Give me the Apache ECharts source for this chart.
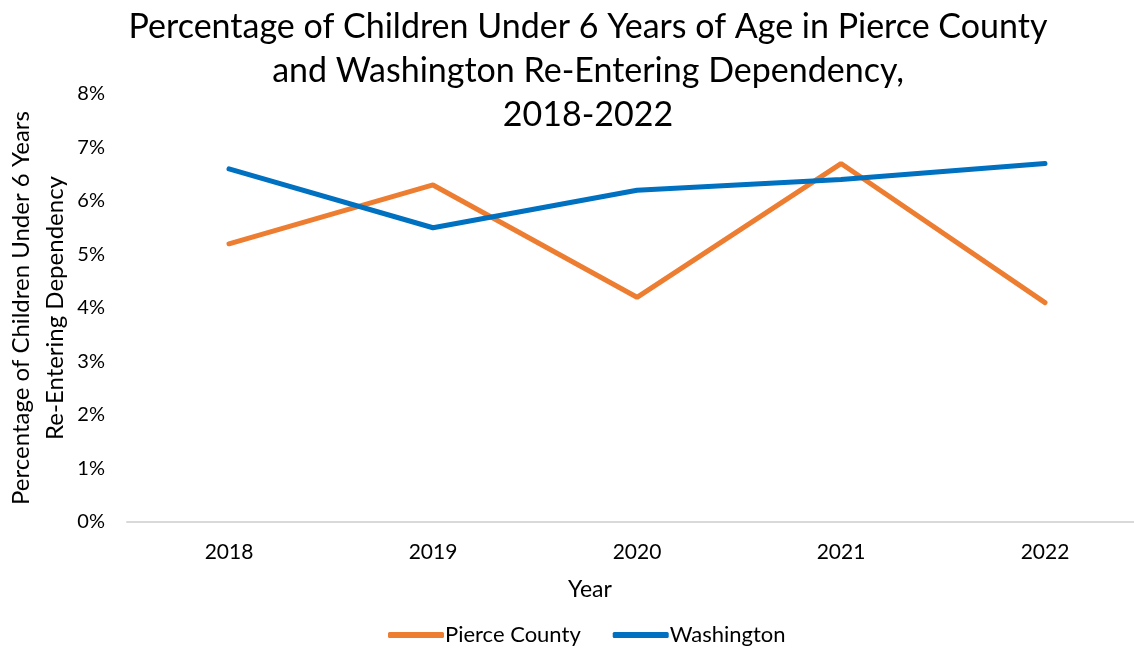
<!DOCTYPE html>
<html>
<head>
<meta charset="utf-8">
<script src="https://cdn.jsdelivr.net/npm/echarts@6/dist/echarts.min.js"></script>
<style>
  html, body { margin: 0; padding: 0; background: #ffffff; }
  #chart { width: 1134px; height: 651px; }
</style>
</head>
<body>
<div id="chart"></div>
<script>
// Re-entry rates (%) by year
const years = ['2018', '2019', '2020', '2021', '2022'];
const pierceCounty = [5.2, 6.3, 4.2, 6.7, 4.1];
const washington = [6.6, 5.5, 6.2, 6.4, 6.7];
const yTicks = [0, 1, 2, 3, 4, 5, 6, 7, 8];

const FONT = 'Lato, "Noto Sans", sans-serif';
const chart = echarts.init(document.getElementById('chart'));

chart.setOption({
  animation: false,
  textStyle: { fontFamily: FONT, color: '#000' },
  title: {
    text: 'Percentage of Children Under 6 Years of Age in Pierce County\nand Washington Re-Entering Dependency,\n2018-2022',
    left: 583,
    textAlign: 'center',
    top: 0,
    textStyle: { fontFamily: FONT, fontSize: 34, fontWeight: 'normal', color: '#000', lineHeight: 44 }
  },
  legend: {
    bottom: 0,
    left: 383,
    itemWidth: 56,
    itemHeight: 6,
    itemGap: 32,
    icon: 'roundRect',
    textStyle: { fontFamily: FONT, fontSize: 22, color: '#000', padding: [0, 0, 0, -4] },
    data: ['Pierce County', 'Washington']
  },
  grid: { left: 127, top: 94, width: 1020, height: 428, outerBoundsMode: 'none', containLabel: false },
  xAxis: {
    type: 'category',
    data: years,
    boundaryGap: true,
    name: 'Year',
    nameLocation: 'middle',
    nameGap: 56,
    nameTextStyle: { fontFamily: FONT, fontSize: 23, color: '#000', padding: [0, 0, 0, -94] },
    axisLine: { lineStyle: { color: '#d9d9d9', width: 2 } },
    axisTick: { show: false },
    axisLabel: { fontFamily: FONT, fontSize: 21, color: '#000', margin: 20 }
  },
  yAxis: {
    type: 'value',
    min: yTicks[0],
    max: yTicks[yTicks.length - 1],
    interval: 1,
    name: 'Percentage of Children Under 6 Years\nRe-Entering Dependency',
    nameLocation: 'middle',
    nameGap: 55,
    nameMoveOverlap: false,
    nameTextStyle: { fontFamily: FONT, fontSize: 24, color: '#000', lineHeight: 34 },
    axisLine: { show: false },
    axisTick: { show: false },
    splitLine: { show: false },
    axisLabel: { fontFamily: FONT, fontSize: 20, color: '#000', margin: 22, formatter: v => v + '%' }
  },
  series: [
    {
      name: 'Pierce County',
      type: 'line',
      data: pierceCounty,
      symbol: 'none',
      lineStyle: { color: '#ED7D31', width: 5, cap: 'round' },
      itemStyle: { color: '#ED7D31' }
    },
    {
      name: 'Washington',
      type: 'line',
      data: washington,
      symbol: 'none',
      lineStyle: { color: '#0070C0', width: 5, cap: 'round' },
      itemStyle: { color: '#0070C0' }
    }
  ]
});
</script>
</body>
</html>
